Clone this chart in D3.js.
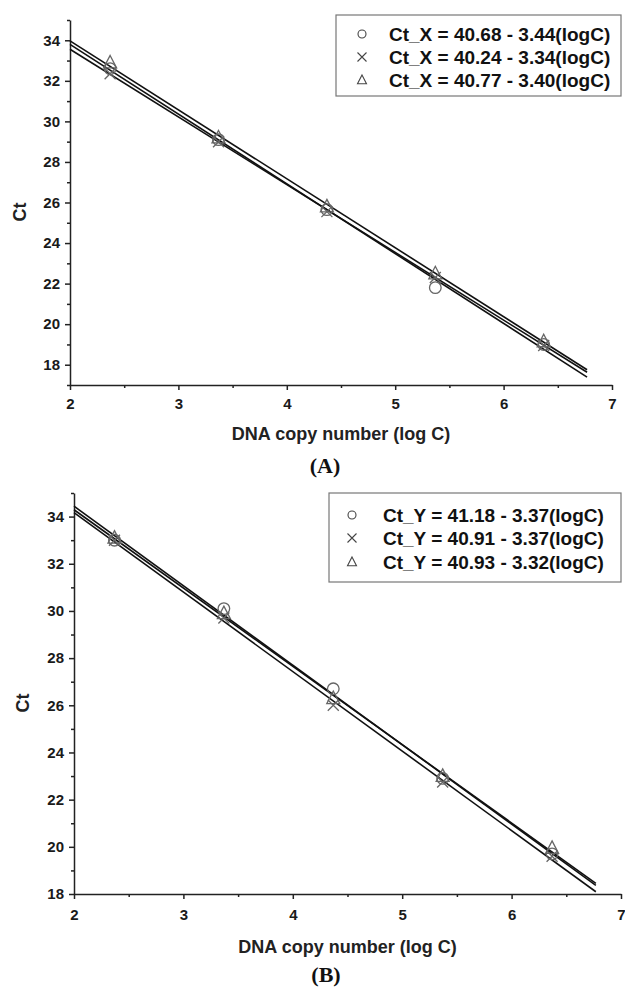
<!DOCTYPE html>
<html><head><meta charset="utf-8">
<script src="https://cdn.jsdelivr.net/npm/d3@7"></script>
<style>body{margin:0;background:#fff} svg{display:block}</style>
</head><body>
<svg id="c" width="625" height="988"></svg>
<script>
// ---- data ----
const logC = [2.37, 3.37, 4.37, 5.37, 6.37];
const ctA_circle   = [32.6, 29.1, 25.65, 21.8, 19.0];
const ctA_cross    = [32.35, 29.0, 25.55, 22.3, 18.95];
const ctA_triangle = [32.9, 29.2, 25.8, 22.5, 19.15];
const ctB_circle   = [33.0, 30.1, 26.7, 22.9, 19.7];
const ctB_cross    = [33.0, 29.7, 26.0, 22.75, 19.6];
const ctB_triangle = [33.1, 29.9, 26.3, 23.0, 19.95];
const fitA_intercept = [40.68, 40.24, 40.77];
const fitA_slope     = [3.44, 3.34, 3.40];
const fitB_intercept = [41.18, 40.91, 40.93];
const fitB_slope     = [3.37, 3.37, 3.32];
const fitRange = [2, 6.77];
const legendA = ["Ct_X = 40.68 - 3.44(logC)", "Ct_X = 40.24 - 3.34(logC)", "Ct_X = 40.77 - 3.40(logC)"];
const legendB = ["Ct_Y = 41.18 - 3.37(logC)", "Ct_Y = 40.91 - 3.37(logC)", "Ct_Y = 40.93 - 3.32(logC)"];
const symbols = ["circle", "cross", "triangle"];
const xTicks = [2, 3, 4, 5, 6, 7];
const xMinor = [2.5, 3.5, 4.5, 5.5, 6.5];
const yTicks = [18, 20, 22, 24, 26, 28, 30, 32, 34];
const yMinorA = [17, 19, 21, 23, 25, 27, 29, 31, 33, 35];
const yMinorB = [19, 21, 23, 25, 27, 29, 31, 33, 35];
const xTitle = "DNA copy number (log C)";
const yTitle = "Ct";
const panelLabels = ["(A)", "(B)"];

// ---- layout ----
const SANS = "'Liberation Sans', Arial, sans-serif";
const SERIF = "'Liberation Serif', 'Times New Roman', serif";
const svg = d3.select("#c");

function symPath(type, s) {
  if (type === "circle") {
    const r = s;
    return `M${r},0A${r},${r} 0 1,1 ${-r},0A${r},${r} 0 1,1 ${r},0Z`;
  }
  if (type === "cross") {
    const a = s;
    return `M${-a},${-a}L${a},${a}M${-a},${a}L${a},${-a}`;
  }
  const h = s * 1.1, w = s;
  return `M0,${-h}L${w},${h*0.75}L${-w},${h*0.75}Z`;
}

function panel(cfg) {
  const x = d3.scaleLinear().domain([2, 7]).range(cfg.xr);
  const y = d3.scaleLinear().domain(cfg.yd).range(cfg.yr);
  const g = svg.append("g");

  // minor ticks
  g.append("g").attr("transform", `translate(0,${cfg.yr[0]})`)
    .call(d3.axisBottom(x).tickValues(xMinor).tickSize(3).tickFormat(""))
    .call(a => a.select(".domain").remove());
  g.append("g").attr("transform", `translate(${cfg.xr[0]},0)`)
    .call(d3.axisLeft(y).tickValues(cfg.yMinor).tickSize(3).tickFormat(""))
    .call(a => a.select(".domain").remove());

  const xa = g.append("g").attr("transform", `translate(0,${cfg.yr[0]})`)
    .call(d3.axisBottom(x).tickValues(xTicks).tickSize(5).tickSizeOuter(0).tickPadding(cfg.xPad).tickFormat(d3.format("d")));
  const ya = g.append("g").attr("transform", `translate(${cfg.xr[0]},0)`)
    .call(d3.axisLeft(y).tickValues(yTicks).tickSize(5).tickSizeOuter(0).tickPadding(5).tickFormat(d3.format("d")));
  [xa, ya].forEach(a => {
    a.selectAll("path,line").attr("stroke", "#222").attr("stroke-width", 1.5);
    a.selectAll("text").attr("font-family", SANS).attr("font-weight", "bold")
      .attr("font-size", 15).attr("fill", "#1a1a1a");
  });
  g.selectAll("g.tick line").attr("stroke", "#222").attr("stroke-width", 1.5);

  // fit lines
  cfg.ints.forEach((b, i) => {
    const m = cfg.slopes[i];
    g.append("line")
      .attr("x1", x(fitRange[0])).attr("y1", y(b - m * fitRange[0]))
      .attr("x2", x(fitRange[1])).attr("y2", y(b - m * fitRange[1]))
      .attr("stroke", "#111").attr("stroke-width", 1.6);
  });

  // points
  cfg.series.forEach((vals, i) => {
    g.append("g").selectAll("path").data(vals).join("path")
      .attr("transform", (d, j) => `translate(${x(logC[j])},${y(d)})`)
      .attr("d", symPath(symbols[i], symbols[i] === "circle" ? 5.8 : (symbols[i] === "cross" ? 5.5 : 6.5)))
      .attr("fill", "none").attr("stroke", "#666").attr("stroke-width", 1.3);
  });

  // legend
  const L = cfg.legend;
  g.append("rect").attr("x", L.x0).attr("y", L.y0).attr("width", L.x1 - L.x0).attr("height", L.y1 - L.y0)
    .attr("fill", "#fff").attr("stroke", "#777").attr("stroke-width", 1.2);
  cfg.labels.forEach((t, i) => {
    g.append("path").attr("transform", `translate(${L.sx},${L.rows[i]})`)
      .attr("d", symPath(symbols[i], symbols[i] === "circle" ? 4 : 4.5))
      .attr("fill", "none").attr("stroke", "#444").attr("stroke-width", 1.1);
    g.append("text").attr("x", L.tx).attr("y", L.rows[i]).attr("dy", "0.36em")
      .attr("font-family", SANS).attr("font-weight", "bold").attr("font-size", 19)
      .attr("fill", "#111").text(t);
  });

  // titles
  const cx = (cfg.xr[0] + cfg.xr[1]) / 2;
  g.append("text").attr("x", cx).attr("y", cfg.xTitleY).attr("text-anchor", "middle")
    .attr("font-family", SANS).attr("font-weight", "bold").attr("font-size", 18)
    .attr("fill", "#222").text(xTitle);
  g.append("text").attr("transform", `translate(${cfg.yTitleX},${cfg.yTitleY}) rotate(-90)`)
    .attr("text-anchor", "middle").attr("dy", "0.36em")
    .attr("font-family", SANS).attr("font-weight", "bold").attr("font-size", 18)
    .attr("fill", "#222").text(yTitle);
  g.append("text").attr("x", cfg.plX).attr("y", cfg.plY).attr("text-anchor", "middle")
    .attr("font-family", SERIF).attr("font-weight", "bold").attr("font-size", 22)
    .attr("fill", "#111").text(cfg.pl);
}

panel({
  xr: [70, 612], yd: [17, 35], yr: [385, 20], yMinor: yMinorA, xPad: 8,
  ints: fitA_intercept, slopes: fitA_slope,
  series: [ctA_circle, ctA_cross, ctA_triangle],
  labels: legendA,
  legend: {x0: 336, y0: 15, x1: 621, y1: 96, sx: 362, tx: 389, rows: [34, 57, 80]},
  xTitleY: 440, yTitleX: 20, yTitleY: 212, plX: 325, plY: 473, pl: panelLabels[0]
});
panel({
  xr: [74, 621], yd: [18, 35], yr: [894, 493], yMinor: yMinorB, xPad: 10,
  ints: fitB_intercept, slopes: fitB_slope,
  series: [ctB_circle, ctB_cross, ctB_triangle],
  labels: legendB,
  legend: {x0: 329, y0: 493, x1: 621, y1: 582, sx: 352, tx: 383, rows: [515, 538, 562]},
  xTitleY: 953, yTitleX: 23, yTitleY: 703, plX: 326, plY: 982, pl: panelLabels[1]
});
</script>
</body></html>
